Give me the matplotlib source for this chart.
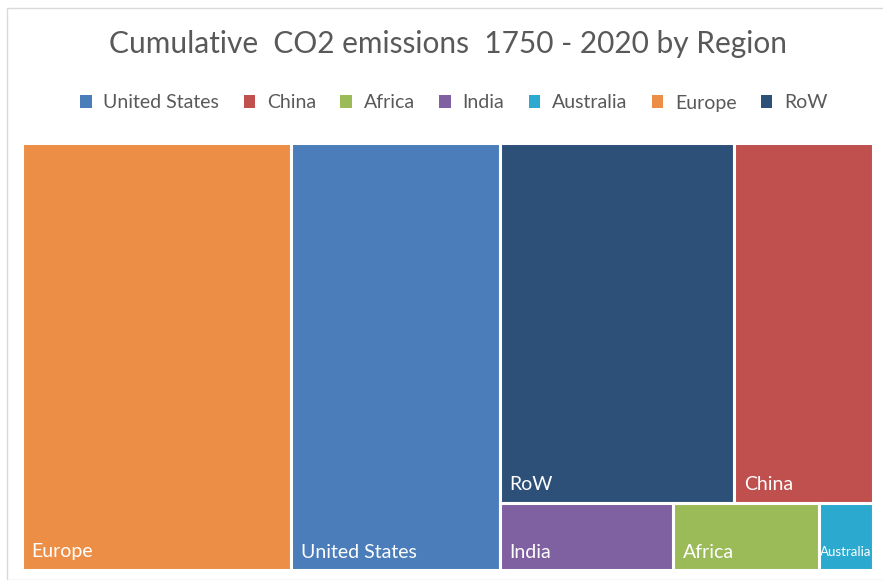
import matplotlib.pyplot as plt
from matplotlib.patches import Rectangle

# share of cumulative CO2 emissions (%)
regions = ["Europe", "United States", "RoW", "China", "India", "Africa", "Australia"]
emissions = [31.6, 24.5, 23.2, 13.7, 3.2, 2.7, 1.0]
colors = {
    "United States": "#4A7DBA",
    "China": "#C0504D",
    "Africa": "#9BBB59",
    "India": "#7F60A0",
    "Australia": "#2CA9CF",
    "Europe": "#EC8E45",
    "RoW": "#2D5079",
}
legend_order = ["United States", "China", "Africa", "India", "Australia", "Europe", "RoW"]

# tile layout: columns, each column is a list of rows
layout = [[["Europe"]], [["United States"]], [["RoW", "China"], ["India", "Africa", "Australia"]]]

val = dict(zip(regions, emissions))
total = sum(emissions)

plt.rcParams['font.family'] = ['Lato', 'DejaVu Sans']
fig = plt.figure(figsize=(8.83, 5.80), dpi=100)
fig.patches.append(Rectangle((7 / 883, 0.0), 1.0, 1 - 8 / 580, transform=fig.transFigure,
                             fill=False, edgecolor='#d9d9d9', linewidth=1))
ax = fig.add_axes([22 / 883, 10 / 580, 851 / 883, 427 / 580])
ax.set_xlim(0, 1)
ax.set_ylim(0, 1)
ax.axis('off')

x = 0.0
for col in layout:
    col_sum = sum(val[n] for row in col for n in row)
    w = col_sum / total
    y = 1.0
    for row in col:
        row_sum = sum(val[n] for n in row)
        h = row_sum / col_sum
        y -= h
        xx = x
        for name in row:
            ww = w * val[name] / row_sum
            rect = Rectangle((xx, y), ww, h, facecolor=colors[name], edgecolor='white', linewidth=2.2)
            ax.add_patch(rect)
            small = name == "Australia"
            t = ax.annotate(name, (xx, y), xytext=(1 if small else 7, 10 if small else 9),
                            textcoords='offset points', color='white',
                            fontsize=9.5 if small else 14, ha='left', va='baseline')
            t.set_clip_path(rect)
            xx += ww
    x += w

fig.text(0.507, 1 - 44 / 580, "Cumulative  CO2 emissions  1750 - 2020 by Region",
         ha='center', va='center', fontsize=21.5, color='#595959')

handles = [Rectangle((0, 0), 1, 1, facecolor=colors[n]) for n in legend_order]
fig.legend(handles, legend_order, loc='center', bbox_to_anchor=(0.514, 1 - 103 / 580), ncol=7,
           frameon=False, fontsize=14, labelcolor='#595959', handlelength=0.6, handleheight=0.6,
           handletextpad=0.6, columnspacing=1.25)

fig.savefig('out.png', dpi=100)
